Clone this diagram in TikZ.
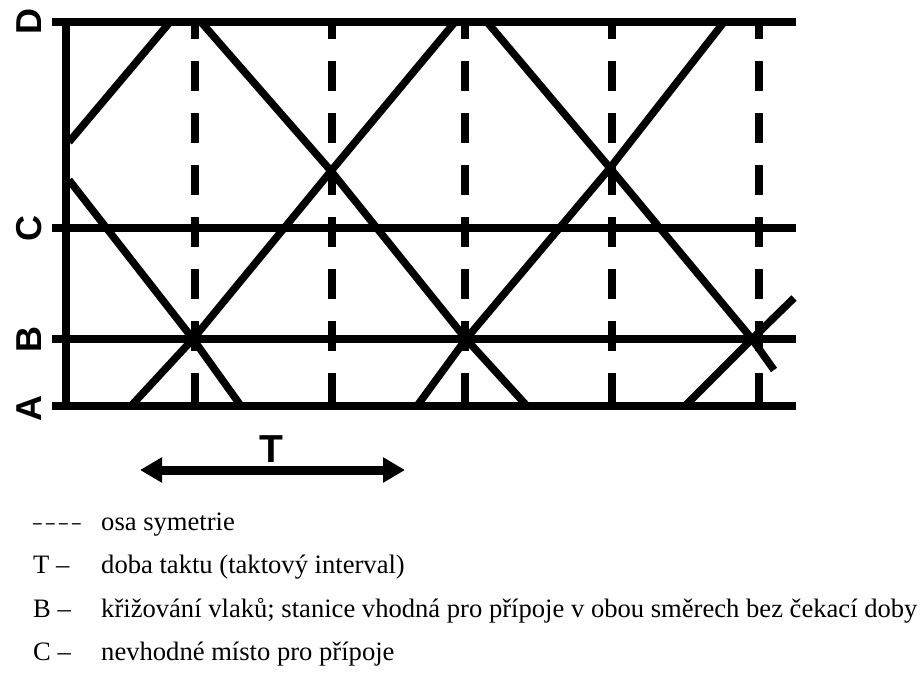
\documentclass[tikz,border=0pt]{standalone}
\usepackage{fontspec}
\setmainfont{Liberation Serif}
\setsansfont{Liberation Sans}
\usetikzlibrary{arrows.meta}
\begin{document}
\begin{tikzpicture}[x=1pt,y=-1pt,
  axis/.style={line width=8pt},
  train/.style={line width=7.5pt, line join=round},
  symaxis/.style={line width=8pt, dash pattern=on 30pt off 22pt, dash phase=13pt},
  station/.style={font=\sffamily\bfseries\fontsize{36}{36}\selectfont, rotate=90, anchor=base, inner sep=0pt},
  tlabel/.style={font=\sffamily\bfseries\fontsize{39}{39}\selectfont, anchor=base, inner sep=0pt},
  tarrow/.style={line width=9pt, {Triangle[length=22pt,width=24pt]}-{Triangle[length=22pt,width=24pt]}},
  legend/.style={font=\fontsize{26.6}{26.6}\selectfont, anchor=base west, inner sep=0pt}]
\useasboundingbox (0,0) rectangle (923,672);

% station lines
\coordinate (D0) at (52,22);  \coordinate (D1) at (796,22);
\coordinate (C0) at (52,228); \coordinate (C1) at (796,228);
\coordinate (B0) at (52,339); \coordinate (B1) at (796,339);
\coordinate (A0) at (52,406); \coordinate (A1) at (796,406);
\coordinate (V0) at (66,22);  \coordinate (V1) at (66,406);
\draw[axis] (D0) -- (D1);
\draw[axis] (C0) -- (C1);
\draw[axis] (B0) -- (B1);
\draw[axis] (A0) -- (A1);
\draw[axis] (V0) -- (V1);

% symmetry axes
\foreach \n/\x in {1/195,2/332,3/465,4/612,5/759}{
  \coordinate (S\n t) at (\x,22);
  \coordinate (S\n b) at (\x,406);
  \draw[symaxis] (S\n t) -- (S\n b);
}

% crossing points
\coordinate (P1) at (193,339);
\coordinate (P2) at (331,171);
\coordinate (P3) at (466,339);
\coordinate (P4) at (610,168);
\coordinate (P5) at (752,339);

% train paths
\coordinate (L1a) at (69,142);  \coordinate (L1b) at (170,22);
\coordinate (L2a) at (69,180);  \coordinate (L2b) at (241,406);
\coordinate (L3a) at (131,406); \coordinate (L3b) at (455,22);
\coordinate (L4a) at (201,22);  \coordinate (L4b) at (527,406);
\coordinate (L5a) at (417,406); \coordinate (L5b) at (724,22);
\coordinate (L6a) at (487,22);  \coordinate (L6b) at (774,370);
\coordinate (L7a) at (685,406); \coordinate (L7b) at (794,298);
\draw[train] (L1a) -- (L1b);
\draw[train] (L2a) -- (P1) -- (L2b);
\draw[train] (L3a) -- (P1) -- (P2) -- (L3b);
\draw[train] (L4a) -- (P2) -- (P3) -- (L4b);
\draw[train] (L5a) -- (P3) -- (P4) -- (L5b);
\draw[train] (L6a) -- (P4) -- (P5) -- (L6b);
\draw[train] (L7a) -- (P5) -- (L7b);

% station labels
\node[station] (lD) at (41,21) {D};
\node[station] (lC) at (41,228) {C};
\node[station] (lB) at (41,339) {B};
\node[station] (lA) at (41,408) {A};

% interval arrow
\node[tlabel] (lT) at (271,462) {T};
\coordinate (TL) at (140,470);
\coordinate (TR) at (405,470);
\draw[tarrow] (TL) -- (TR);

% legend
\node[legend, xscale=0.65] (k1) at (33,530) {– – – –};
\node[legend] (t1) at (101,530) {osa symetrie};
\node[legend] (k2) at (33,573) {T –};
\node[legend] (t2) at (101,573) {doba taktu (taktový interval)};
\node[legend] (k3) at (33,617) {B –};
\node[legend] (t3) at (101,617) {křižování vlaků; stanice vhodná pro přípoje v obou směrech bez čekací doby};
\node[legend] (k4) at (33,660) {C –};
\node[legend] (t4) at (101,660) {nevhodné místo pro přípoje};
\end{tikzpicture}
\end{document}
